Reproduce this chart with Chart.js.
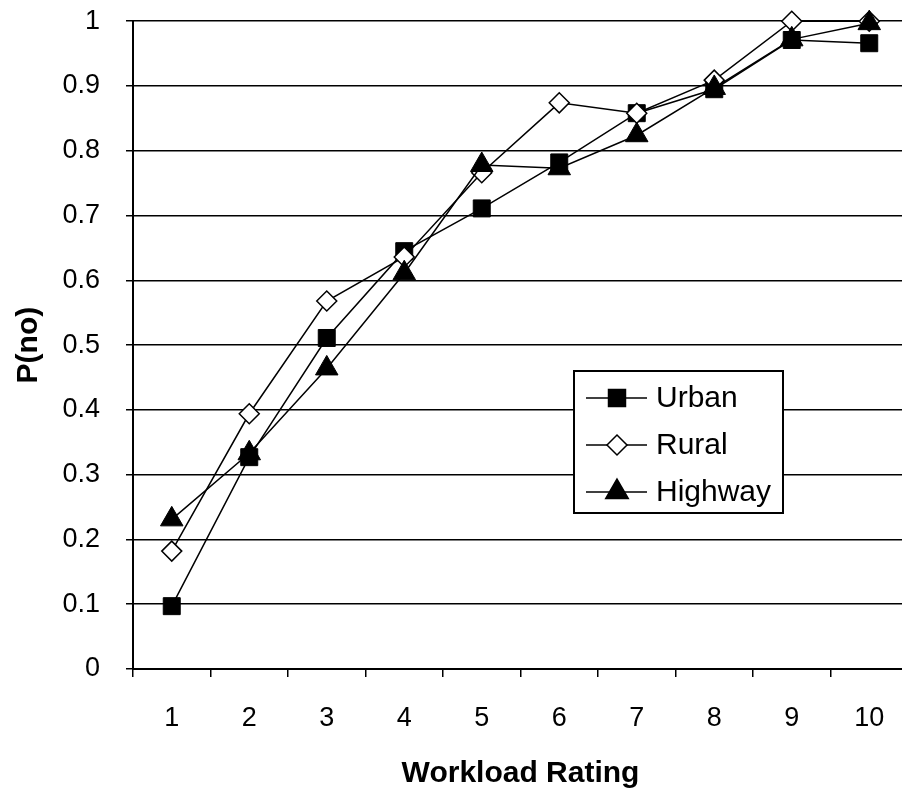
<!DOCTYPE html>
<html>
<head>
<meta charset="utf-8">
<script src="https://cdn.jsdelivr.net/npm/chart.js@4/dist/chart.umd.min.js"></script>
<style>
  html, body { margin: 0; padding: 0; background: #fff; overflow: hidden; }
  #wrap { width: 922px; height: 810px; margin-top: -21px; }
</style>
</head>
<body>
<div id="wrap"><canvas id="workload_chart" width="922" height="810"></canvas></div>
<script>
var ratings = ["1", "2", "3", "4", "5", "6", "7", "8", "9", "10"];
var urban   = [0.097, 0.327, 0.511, 0.645, 0.711, 0.782, 0.858, 0.895, 0.971, 0.966];
var rural   = [0.182, 0.394, 0.568, 0.636, 0.766, 0.874, 0.858, 0.909, 1.000, 1.000];
var highway = [0.231, 0.333, 0.464, 0.611, 0.778, 0.773, 0.824, 0.897, 0.972, 0.997];

var fontFamily = "'Liberation Sans', Arial, sans-serif";

// draws one marker shape for the legend box
function drawMarker(ctx, style, x, y, r, fill) {
  ctx.beginPath();
  if (style === 'rect') {
    var s = r * Math.SQRT1_2;
    ctx.rect(x - s, y - s, 2 * s, 2 * s);
  } else if (style === 'rectRot') {
    ctx.moveTo(x - r, y);
    ctx.lineTo(x, y - r);
    ctx.lineTo(x + r, y);
    ctx.lineTo(x, y + r);
    ctx.closePath();
  } else {
    ctx.moveTo(x, y - r);
    ctx.lineTo(x + r * Math.sin(2 * Math.PI / 3), y + r / 2);
    ctx.lineTo(x - r * Math.sin(2 * Math.PI / 3), y + r / 2);
    ctx.closePath();
  }
  ctx.fillStyle = fill;
  ctx.fill();
  ctx.lineWidth = 1.5;
  ctx.strokeStyle = 'black';
  ctx.stroke();
}

// boxed legend sitting inside the plot, lower right
var boxLegend = {
  id: 'boxLegend',
  afterDraw: function (chart) {
    var ctx = chart.ctx;
    var left = 574, top = 392, w = 209, h = 142;
    ctx.save();
    ctx.fillStyle = 'white';
    ctx.fillRect(left, top, w, h);
    ctx.lineWidth = 2;
    ctx.strokeStyle = 'black';
    ctx.strokeRect(left, top, w, h);
    ctx.font = '30px ' + fontFamily;
    ctx.textBaseline = 'middle';
    chart.data.datasets.forEach(function (ds, i) {
      var y = top + 27 + i * 47;
      ctx.beginPath();
      ctx.moveTo(left + 12, y);
      ctx.lineTo(left + 73, y);
      ctx.lineWidth = 1.5;
      ctx.strokeStyle = 'black';
      ctx.stroke();
      drawMarker(ctx, ds.pointStyle, left + 43, y, ds.pointRadius, ds.pointBackgroundColor);
      ctx.fillStyle = 'black';
      ctx.fillText(ds.label, left + 82, y + 1);
    });
    ctx.restore();
  }
};

var ctx = document.getElementById('workload_chart').getContext('2d');

var chartInstance = new Chart(ctx, {
  type: 'line',
  data: {
    labels: ratings,
    datasets: [
      {
        label: 'Urban',
        data: urban,
        borderColor: 'black',
        borderWidth: 1.5,
        pointStyle: 'rect',
        pointRadius: 12,
        pointBackgroundColor: 'black',
        pointBorderColor: 'black',
        pointBorderWidth: 1,
        order: 3,
        clip: false
      },
      {
        label: 'Rural',
        data: rural,
        borderColor: 'black',
        borderWidth: 1.5,
        pointStyle: 'rectRot',
        pointRadius: 10,
        pointBackgroundColor: 'white',
        pointBorderColor: 'black',
        pointBorderWidth: 1.5,
        order: 2,
        clip: false
      },
      {
        label: 'Highway',
        data: highway,
        borderColor: 'black',
        borderWidth: 1.5,
        pointStyle: 'triangle',
        pointRadius: 13,
        pointBackgroundColor: 'black',
        pointBorderColor: 'black',
        pointBorderWidth: 1,
        order: 1,
        clip: false
      }
    ]
  },
  options: {
    responsive: false,
    animation: false,
    devicePixelRatio: 1,
    layout: { padding: { top: 0, right: 2, left: 0, bottom: 0 } },
    plugins: {
      legend: { display: false },
      tooltip: { enabled: false }
    },
    elements: { line: { tension: 0 } },
    scales: {
      x: {
        offset: true,
        grid: {
          offset: true,
          drawOnChartArea: false,
          drawTicks: true,
          tickLength: 8,
          color: 'black',
          lineWidth: 1.5
        },
        border: { display: true, color: 'black', width: 2 },
        ticks: {
          color: 'black',
          padding: 25,
          maxRotation: 0,
          font: { family: fontFamily, size: 27 }
        },
        title: {
          display: true,
          text: 'Workload Rating',
          color: 'black',
          padding: { top: 18, bottom: 0 },
          font: { family: fontFamily, size: 30, weight: 'bold', lineHeight: 1 }
        },
        afterFit: function (scale) { scale.height = 120; }
      },
      y: {
        min: 0,
        max: 1,
        grid: {
          color: 'black',
          lineWidth: 1.5,
          tickLength: 7
        },
        border: { display: true, color: 'black', width: 2 },
        ticks: {
          stepSize: 0.1,
          color: 'black',
          padding: 26,
          font: { family: fontFamily, size: 27 },
          callback: function (v) { return String(+v.toFixed(1)); }
        },
        title: {
          display: true,
          text: 'P(no)',
          color: 'black',
          padding: { top: 11 },
          font: { family: fontFamily, size: 30, weight: 'bold' }
        },
        afterFit: function (scale) { scale.width = 133; }
      }
    }
  },
  plugins: [boxLegend]
});
</script>
</body>
</html>
